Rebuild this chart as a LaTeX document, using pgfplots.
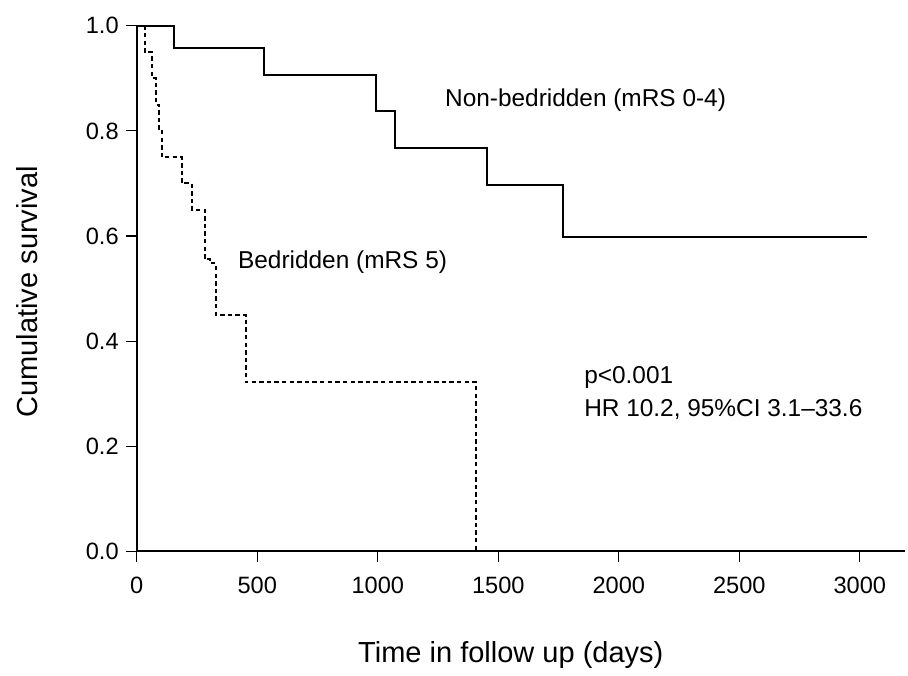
\documentclass[border=0pt]{standalone}
\usepackage{pgfplots}
\pgfplotsset{compat=1.18}
\usepackage{fontspec}
\setmainfont{Liberation Sans}

\begin{document}
\begin{tikzpicture}
\begin{axis}[
    scale only axis,
    width=384pt,
    height=262.75pt,
    xmin=0, xmax=3187,
    ymin=0, ymax=1,
    axis lines*=left,
    axis line style={line width=1pt},
    xtick={0,500,1000,1500,2000,2500,3000},
    ytick={0,0.2,0.4,0.6,0.8,1.0},
    xticklabel style={/pgf/number format/1000 sep={}, yshift=-4pt},
    yticklabel style={/pgf/number format/fixed, /pgf/number format/fixed zerofill, /pgf/number format/precision=1},
    /pgf/number format/assume math mode=true,
    tick align=outside,
    major tick length=5.5pt,
    tick style={black, line width=0.6pt},
    ticklabel style={font=\fontsize{11.8}{14}\selectfont},
    xlabel={Time in follow up (days)},
    ylabel={Cumulative survival},
    label style={font=\fontsize{14.5}{17}\selectfont},
    xlabel style={at={(axis description cs:0.487,-0.198)}, anchor=center},
    ylabel style={at={(axis description cs:-0.143,0.494)}, anchor=center},
    clip=false,
]

% Non-bedridden (mRS 0-4)
\addplot[const plot, black, line width=1pt] coordinates {
    (0,1.0) (154,0.958) (527,0.907) (992,0.837) (1072,0.767)
    (1452,0.697) (1768,0.598) (3029,0.598)
};

% Bedridden (mRS 5)
\addplot[const plot, black, line width=1pt, dash pattern=on 2.2pt off 1.6pt] coordinates {
    (0,1.0) (33,0.95) (62,0.90) (79,0.85) (91,0.80) (104,0.75)
    (187,0.70) (228,0.65) (282,0.556) (303,0.548) (328,0.45)
    (452,0.322) (1407,0.0)
};

\node[anchor=west, font=\fontsize{12.2}{14}\selectfont, inner sep=0pt] at (axis cs:1278,0.859) {Non-bedridden (mRS 0-4)};
\node[anchor=west, font=\fontsize{12.2}{14}\selectfont, inner sep=0pt] at (axis cs:419,0.551) {Bedridden (mRS 5)};
\node[anchor=west, font=\fontsize{12.2}{14}\selectfont, inner sep=0pt] at (axis cs:1855,0.330) {p<0.001};
\node[anchor=west, font=\fontsize{12.2}{14}\selectfont, inner sep=0pt] at (axis cs:1855,0.269) {HR 10.2, 95\%CI 3.1--33.6};

\path (axis description cs:-0.178,-0.227) rectangle (axis description cs:1.004,1.049);
\end{axis}
\end{tikzpicture}
\end{document}
